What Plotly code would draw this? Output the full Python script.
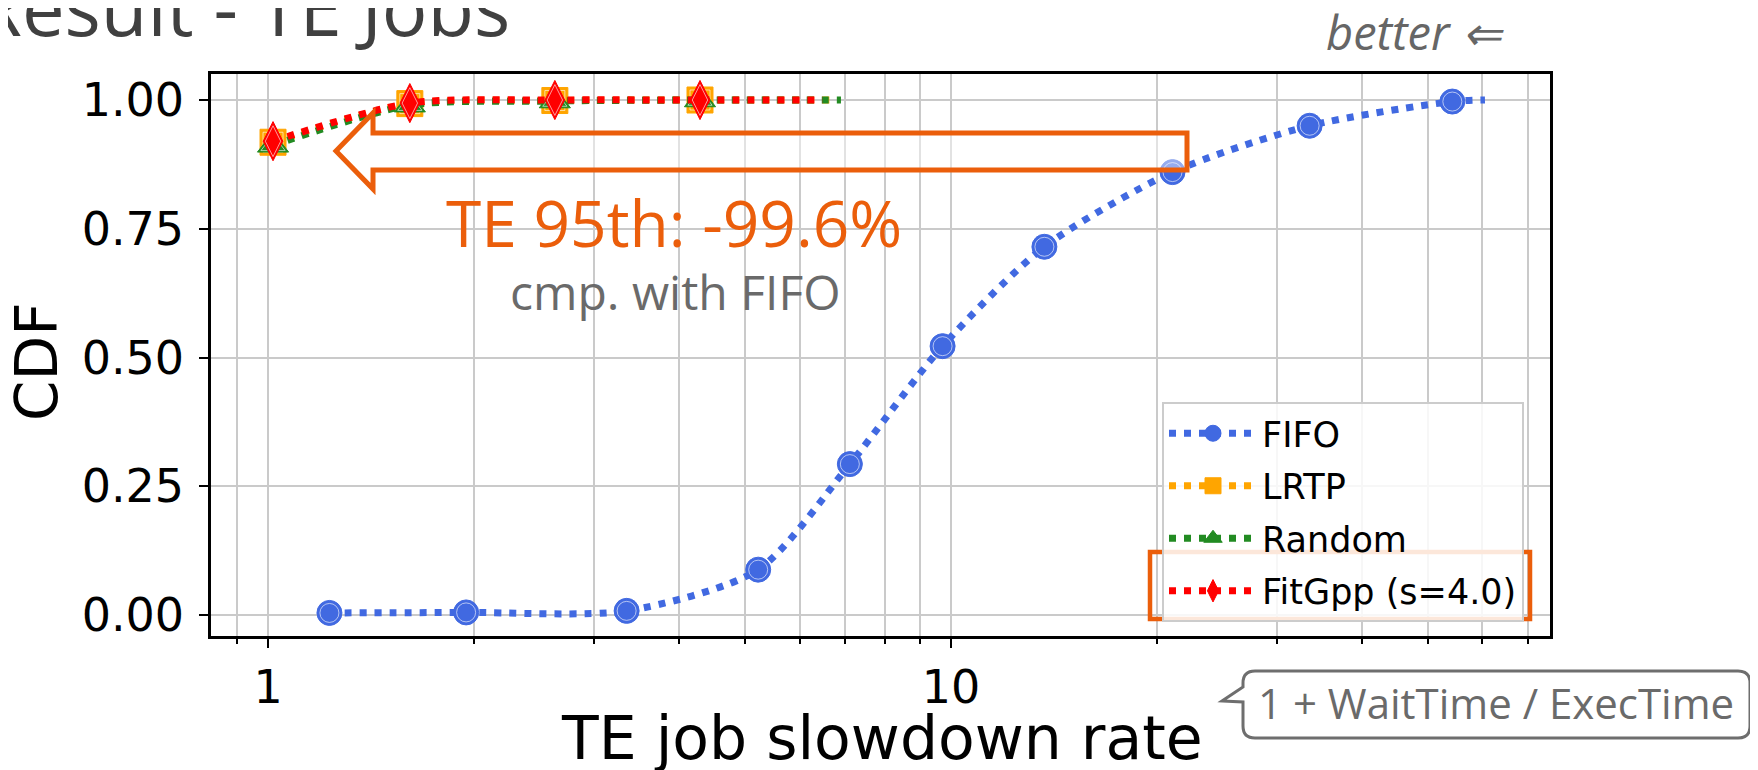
import plotly.graph_objects as go

# ---------------- data ----------------
series_names = ["FIFO", "LRTP", "Random", "FitGpp (s=4.0)"]

fifo_x = [1.23, 1.95, 3.35, 5.22, 7.11, 9.72, 13.7, 21.1, 33.5, 54.2, 60.5]
fifo_y = [0.004, 0.005, 0.008, 0.088, 0.293, 0.522, 0.715, 0.860, 0.950, 0.997, 1.0]
fifo_marked = [True] * 10 + [False]

lrtp_x = [1.017, 1.613, 2.63, 4.29, 6.70]
lrtp_y = [0.918, 0.993, 0.999, 1.0, 1.0]
lrtp_marked = [True, True, True, True, False]

random_x = [1.017, 1.613, 2.63, 4.29, 6.90]
random_y = [0.912, 0.990, 0.998, 1.0, 1.0]
random_marked = [True, True, True, True, False]

fitgpp_x = [1.017, 1.613, 2.63, 4.29, 6.49]
fitgpp_y = [0.920, 0.994, 1.0, 1.0, 1.0]
fitgpp_marked = [True, True, True, True, False]

x_tick_vals = [1, 10]
x_tick_text = ["1", "10"]
x_minor_vals = [0.9, 2, 3, 4, 5, 6, 7, 8, 9, 20, 30, 40, 50, 60, 70]
y_tick_vals = [0.0, 0.25, 0.50, 0.75, 1.00]
y_tick_text = ["0.00", "0.25", "0.50", "0.75", "1.00"]

title_text = "Result - TE Jobs"
better_text = "better ⇐"
headline_text = "TE 95th: -99.6%"
sub_text = "cmp. with FIFO"
callout_text = "1 + WaitTime / ExecTime"
x_title = "TE job slowdown rate"
y_title = "CDF"

# ---------------- styling ----------------
# page body has an 8px default margin -> figure is 8px smaller than the window
OFF = 8
WIDTH, HEIGHT = 1758 - OFF, 770 - OFF
L, R, T, B = 211, 1550, 74, 636          # plot area in window pixels
PW, PH = R - L, B - T
ORANGE = "#EB5E0B"
GRID = "#CACACA"
DASH = "7px,8px"
LW = 7


def px(xp):
    return (xp - L) / PW


def py(yp):
    return (B - yp) / PH


styles = [
    dict(color="#4169E1", symbol="circle", size=25),
    dict(color="#FFA500", symbol="square", size=26),
    dict(color="#228B22", symbol="triangle-up", size=27),
    dict(color="#FF0000", symbol="diamond-tall", size=28),
]
data = [
    (fifo_x, fifo_y, fifo_marked),
    (lrtp_x, lrtp_y, lrtp_marked),
    (random_x, random_y, random_marked),
    (fitgpp_x, fitgpp_y, fitgpp_marked),
]

fig = go.Figure()
for i, (name, st, (xs, ys, mk)) in enumerate(zip(series_names, styles, data)):
    sizes = [st["size"] if m else 0 for m in mk]
    fig.add_trace(go.Scatter(
        x=xs, y=ys, name=name, mode="lines+markers",
        legendgroup=f"g{i}",
        line=dict(color=st["color"], width=LW, dash=DASH, shape="spline", smoothing=0.75),
        marker=dict(symbol=st["symbol"], size=sizes, color=st["color"], opacity=1,
                    line=dict(width=1, color=st["color"])),
    ))
    # thin light inner ring, as in the reference markers
    ring_sym = {"circle": "circle-open", "square": "square-open",
                "triangle-up": "triangle-up-open", "diamond-tall": "diamond-tall-open"}[st["symbol"]]
    fig.add_trace(go.Scatter(
        x=[x for x, m in zip(xs, mk) if m], y=[y for y, m in zip(ys, mk) if m],
        mode="markers", showlegend=False, hoverinfo="skip",
        marker=dict(symbol=ring_sym, size=st["size"] - 6, opacity=1,
                    color="rgba(255,255,255,0.6)", line=dict(width=1)),
    ))

axis_common = dict(
    showline=True, linecolor="black", linewidth=2.5, mirror=True,
    ticks="outside", tickcolor="black", tickwidth=2, ticklen=9,
    showgrid=True, gridcolor=GRID, gridwidth=2, zeroline=False,
    tickfont=dict(family="DejaVu Sans", size=46, color="black"),
)

fig.update_xaxes(
    type="log", range=[-0.0835, 1.877],
    tickmode="array", tickvals=x_tick_vals, ticktext=x_tick_text,
    minor=dict(tickmode="array", tickvals=x_minor_vals, ticks="outside", ticklen=5,
               tickwidth=1.5, tickcolor="black", showgrid=True, gridcolor=GRID, gridwidth=2),
    **axis_common,
)
fig.update_yaxes(
    range=[-0.0408, 1.0505],
    tickmode="array", tickvals=y_tick_vals, ticktext=y_tick_text,
    ticklabelstandoff=6,
    **axis_common,
)

shapes = []
# white box behind the headline text
shapes.append(dict(type="rect", xref="paper", yref="paper", layer="below",
                   x0=px(416), x1=px(935), y0=py(322), y1=py(188),
                   fillcolor="rgba(255,255,255,0.88)", line=dict(width=0)))
# big hollow arrow pointing left
tipx, tipy = 336, 151
hx, htop, hbot = 373, 113, 189
btop, bbot, rx = 133, 170, 1187
arrow_pts = [(tipx, tipy), (hx, htop), (hx, btop), (rx, btop), (rx, bbot),
             (hx, bbot), (hx, hbot)]
path = "M " + " L ".join(f"{px(a):.5f},{py(b):.5f}" for a, b in arrow_pts) + " Z"
shapes.append(dict(type="path", xref="paper", yref="paper", layer="above", path=path,
                   fillcolor="rgba(255,255,255,0.45)", line=dict(color=ORANGE, width=5)))
# orange highlight box around FitGpp legend entry
shapes.append(dict(type="rect", xref="paper", yref="paper", layer="above",
                   x0=px(1150), x1=px(1530), y0=py(619), y1=py(552),
                   line=dict(color=ORANGE, width=4.5)))
# callout box with pointer (rounded)
cx0, cx1, cy0, cy1, rr = 1243, 1750, 671, 738, 12
call_path = (
    f"M {px(cx0)},{py(cy0 + rr)} "
    f"Q {px(cx0)},{py(cy0)} {px(cx0 + rr)},{py(cy0)} "
    f"L {px(cx1 - rr)},{py(cy0)} "
    f"Q {px(cx1)},{py(cy0)} {px(cx1)},{py(cy0 + rr)} "
    f"L {px(cx1)},{py(cy1 - rr)} "
    f"Q {px(cx1)},{py(cy1)} {px(cx1 - rr)},{py(cy1)} "
    f"L {px(cx0 + rr)},{py(cy1)} "
    f"Q {px(cx0)},{py(cy1)} {px(cx0)},{py(cy1 - rr)} "
    f"L {px(cx0)},{py(702)} "
    f"L {px(1222)},{py(701)} "
    f"L {px(cx0)},{py(687)} Z"
)
shapes.append(dict(type="path", xref="paper", yref="paper", layer="above", path=call_path,
                   fillcolor="white", line=dict(color="#6E6E6E", width=3)))

annotations = [
    dict(text=title_text, x=px(-27), y=py(60), xanchor="left", yanchor="bottom",
         font=dict(family="Open Sans", size=76, color="#404040")),
    dict(text=f"<i>{better_text}</i>", x=px(1415), y=py(32), xanchor="center", yanchor="middle",
         font=dict(family="Open Sans", size=47, color="#666666")),
    dict(text=headline_text, x=px(674), y=py(222), xanchor="center", yanchor="middle",
         font=dict(family="Open Sans", size=64, color=ORANGE)),
    dict(text=sub_text, x=px(675), y=py(291), xanchor="center", yanchor="middle",
         font=dict(family="Open Sans", size=48, color="#6A6A6A")),
    dict(text=callout_text, x=px(1496), y=py(702), xanchor="center", yanchor="middle",
         font=dict(family="Open Sans", size=42, color="#6A6A6A")),
    dict(text=x_title, x=px(882), y=py(738), xanchor="center", yanchor="middle",
         font=dict(family="DejaVu Sans", size=60, color="black")),
    dict(text=y_title, x=px(37), y=py(362), xanchor="center", yanchor="middle", textangle=-90,
         font=dict(family="DejaVu Sans", size=58, color="black")),
]
for a in annotations:
    a.update(xref="paper", yref="paper", showarrow=False)

fig.update_layout(
    width=WIDTH, height=HEIGHT,
    margin=dict(l=L - OFF, r=WIDTH - (R - OFF), t=T - OFF, b=HEIGHT - (B - OFF), pad=0),
    paper_bgcolor="white", plot_bgcolor="white",
    shapes=shapes, annotations=annotations,
    showlegend=True,
    legend=dict(x=px(1162), y=py(402), xanchor="left", yanchor="top",
                bgcolor="rgba(255,255,255,0.85)", bordercolor="#CCCCCC", borderwidth=2,
                font=dict(family="DejaVu Sans", size=35, color="black"),
                tracegroupgap=4, itemwidth=88),
)

fig.write_html("out.html")
